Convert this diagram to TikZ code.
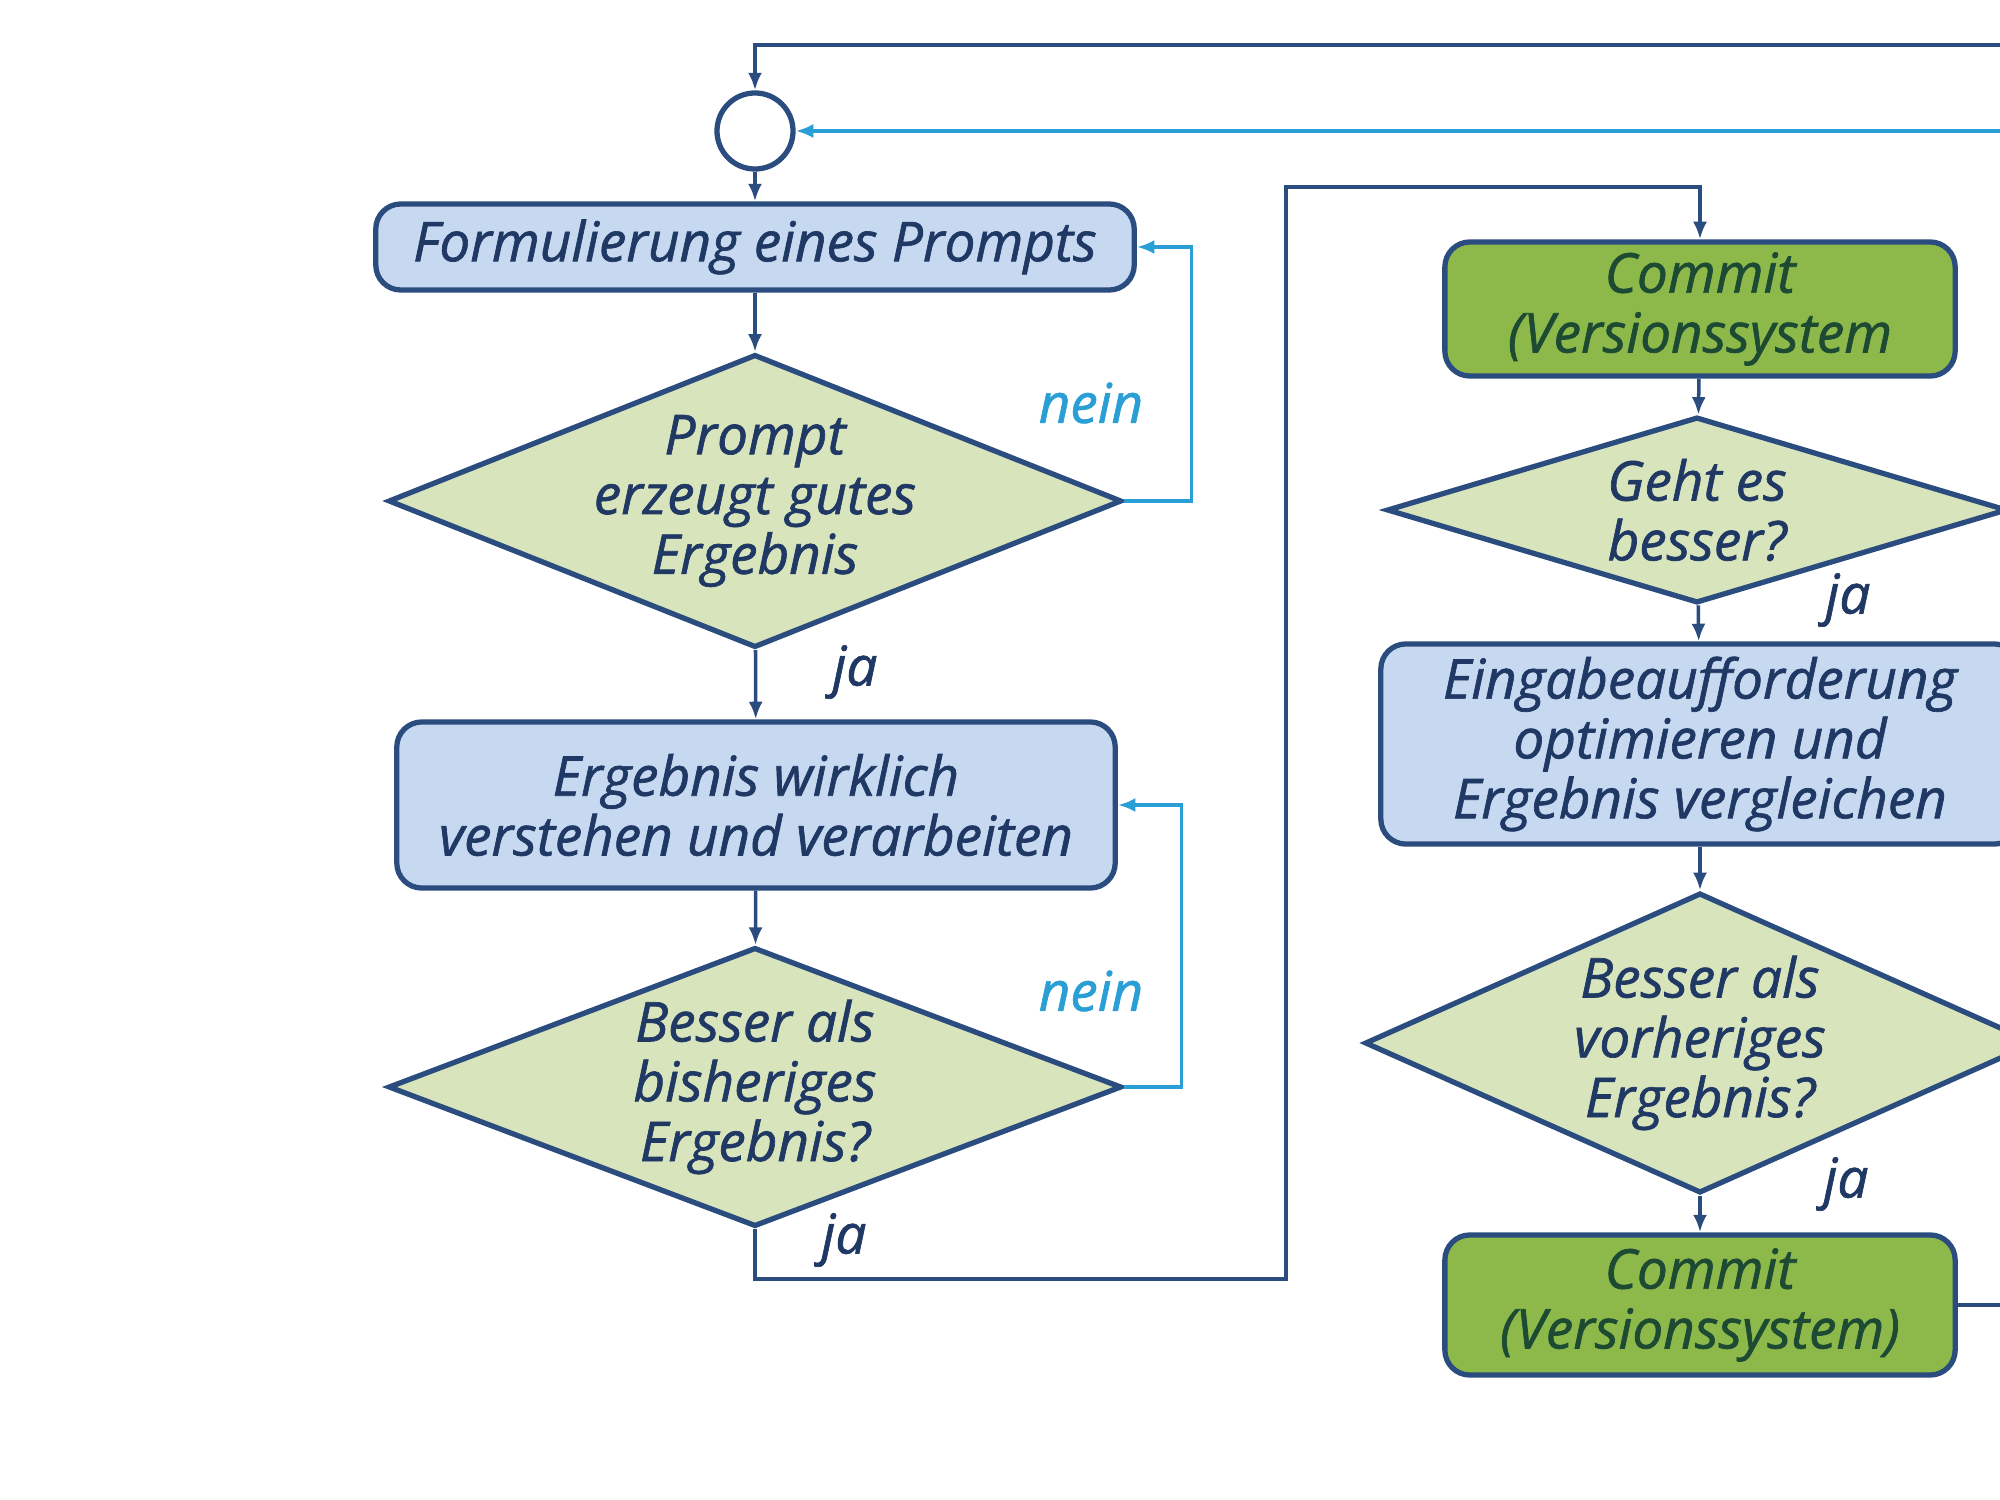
\documentclass[tikz,border=0pt]{standalone}
\usepackage{fontspec}
\setmainfont{Open Sans}
\newfontfamily\diagfont{Open Sans}[ItalicFeatures={FakeBold=1.2}]
\usetikzlibrary{shapes.geometric,arrows.meta}
\definecolor{navy}{HTML}{1F3864}
\definecolor{edgec}{HTML}{2B4C7E}
\definecolor{boxfill}{HTML}{C6D9F1}
\definecolor{diafill}{HTML}{D8E4BC}
\definecolor{grn}{HTML}{8DB94B}
\definecolor{grntext}{HTML}{1D4A33}
\definecolor{lblue}{HTML}{2A9FD6}
\tikzset{
 txt/.style={font=\diagfont\fontsize{15.6}{17}\selectfont\itshape},
 proc/.style={draw=edgec, line width=1.5pt, rounded corners=0.25cm, fill=boxfill, align=center, text=navy, txt, inner sep=0},
 commitbox/.style={proc, fill=grn, text=grntext},
 decision/.style={diamond, draw=edgec, line width=1.5pt, fill=diafill, align=center, text=navy, txt, inner sep=-4pt},
 flow/.style={draw=edgec, line width=1pt, -{Latex[length=5pt,width=4pt]}},
 back/.style={draw=lblue, line width=1pt, -{Latex[length=5pt,width=4pt]}},
 plainline/.style={draw=edgec, line width=1.2pt},
 lab/.style={txt, text=navy},
 nlab/.style={txt, text=lblue},
}
\begin{document}
\begin{tikzpicture}[x=0.01cm,y=-0.01cm]
\useasboundingbox (0,0) rectangle (2000,1500);
\clip (0,0) rectangle (2000,1500);
\fill[white] (0,0) rectangle (2000,1500);

\node[circle, draw=edgec, line width=1.5pt, fill=white, minimum size=0.76cm, inner sep=0] (join) at (755,131) {};
\node[proc, minimum width=7.58cm, minimum height=0.86cm] (formul) at (755,247) {Formulierung eines Prompts};
\node[decision, minimum width=7.33cm, minimum height=2.93cm, aspect=2.5] (d1) at (755,501) {Prompt\\erzeugt gutes\\Ergebnis};
\node[proc, minimum width=7.18cm, minimum height=1.66cm] (verst) at (756,805) {Ergebnis wirklich\\verstehen und verarbeiten};
\node[decision, minimum width=7.33cm, minimum height=2.79cm, aspect=2.63] (d2) at (755,1087) {Besser als\\bisheriges\\Ergebnis?};
\node[commitbox, minimum width=5.1cm, minimum height=1.34cm] (c1) at (1700,309) {Commit\\(Versionssystem};
\node[decision, minimum width=6.2cm, minimum height=1.86cm, aspect=3.33] (d3) at (1697,510) {Geht es\\besser?};
\node[proc, minimum width=6.38cm, minimum height=2.0cm] (opt) at (1700,744) {Eingabeaufforderung\\optimieren und\\Ergebnis vergleichen};
\node[decision, minimum width=6.7cm, minimum height=3.0cm, aspect=2.23] (d4) at (1700,1043) {Besser als\\vorheriges\\Ergebnis?};
\node[commitbox, minimum width=5.1cm, minimum height=1.4cm] (c2) at (1700,1305) {Commit\\(Versionssystem)};

\coordinate (topR) at (2000,45);
\coordinate (lbR) at (2000,131);
\coordinate (j1) at (1286,1279);
\coordinate (j2) at (1286,187);
\coordinate (outR) at (2000,1305);

\draw[flow, line width=1.4pt] (topR) -| (join.north);
\draw[back, line width=1.4pt] (lbR) -- (join.east);
\draw[flow] (join) -- (formul);
\draw[flow] (formul) -- (d1);
\draw[back] (d1.east) -- ++(67,0) |- (formul.east);
\draw[flow] (d1) -- (verst);
\draw[flow] (verst) -- (d2);
\draw[back] (d2.east) -- ++(57,0) |- (verst.east);
\draw[flow] (d2.south) |- (j1) -- (j2) -| (c1.north);
\draw[flow] (c1) -- (d3);
\draw[flow] (d3) -- (opt);
\draw[flow] (opt) -- (d4);
\draw[flow] (d4) -- (c2);
\draw[plainline] (c2.east) -- (outR);

\node[nlab] (n1) at (1091,403) {nein};
\node[nlab] (n2) at (1091,991) {nein};
\node[lab] (y1) at (855,672) {ja};
\node[lab] (y2) at (844,1240) {ja};
\node[lab] (y3) at (1848,600) {ja};
\node[lab] (y4) at (1846,1184) {ja};
\end{tikzpicture}
\end{document}
